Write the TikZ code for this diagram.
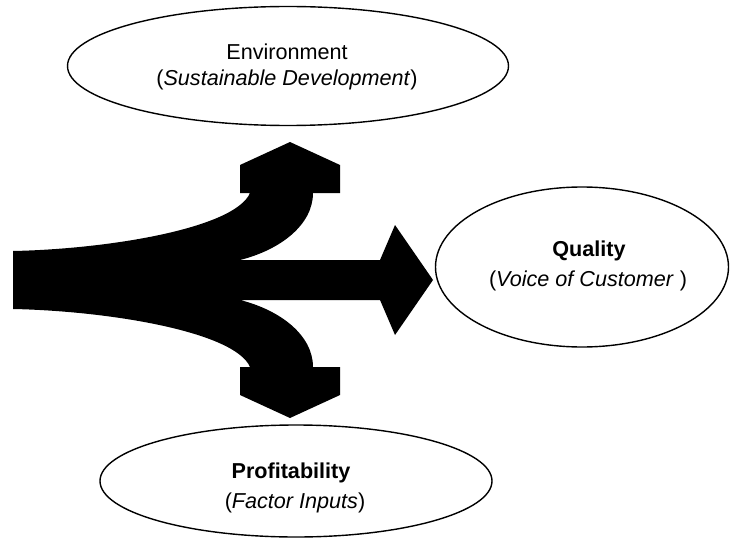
\documentclass[tikz,border=0pt]{standalone}
\usepackage{fontspec}
\setmainfont{Liberation Sans}
\usetikzlibrary{shapes.geometric}
\begin{document}
\begin{tikzpicture}[x=0.5pt,y=-0.5pt,
  goal/.style={draw, ellipse, line width=0.7pt, inner sep=0pt},
  lbl/.style={anchor=base, inner sep=0pt, font=\fontsize{10.8}{13}\selectfont}]
\useasboundingbox (0,0) rectangle (733,540);

% three-way branching arrow
\fill[black]
  (13,251) .. controls (110,249) and (235,228) .. (250,193)
  -- (240,193) -- (240,165) -- (290,142) -- (340,165) -- (340,193) -- (313,193)
  .. controls (313,225) and (280,250) .. (240,260)
  -- (380,260) -- (395,225) -- (433,280) -- (395,335) -- (380,300) -- (240,300)
  .. controls (280,310) and (313,335) .. (313,367)
  -- (340,367) -- (340,395) -- (290,418) -- (240,395) -- (240,367) -- (250,367)
  .. controls (235,332) and (110,311) .. (13,309)
  -- cycle;

% goal ellipses
\node[goal, minimum width=220.5pt, minimum height=59.5pt] (env) at (288,66) {};
\node[goal, minimum width=146.5pt, minimum height=80pt] (qual) at (582,267) {};
\node[goal, minimum width=196pt, minimum height=56pt] (prof) at (296,481) {};

% labels
\node[lbl] (envA) at (287,60) {Environment};
\node[lbl] (envB) at (287,86) {(\textit{Sustainable Development})};
\node[lbl] (qualA) at (589,256) {\textbf{Quality}};
\node[lbl] (qualB) at (588,286) {(\textit{Voice of Customer} )};
\node[lbl] (profA) at (291,478) {\textbf{Profitability}};
\node[lbl] (profB) at (295,508) {(\textit{Factor Inputs})};
\end{tikzpicture}
\end{document}
